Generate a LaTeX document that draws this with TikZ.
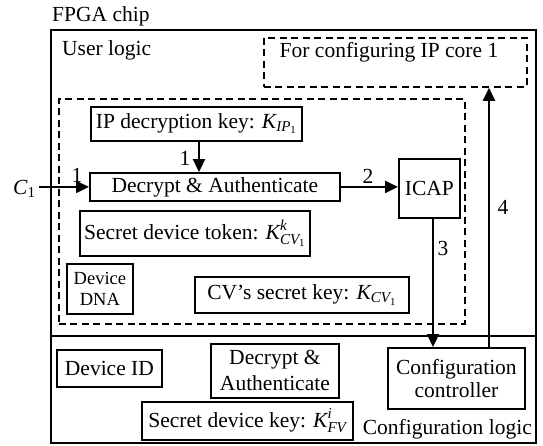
\documentclass[tikz,border=0pt]{standalone}
\usepackage{amsmath}
\usepackage{fontspec}
\setmainfont{Liberation Serif}
\usetikzlibrary{arrows.meta}
\tikzset{
  box/.style={draw, line width=1.8pt, inner sep=0pt, anchor=north west, align=center},
  dbox/.style={draw, line width=1.8pt, dash pattern=on 7pt off 4.5pt, inner sep=0pt, anchor=north west},
  arr/.style={line width=2.3pt, -{Triangle[length=13pt,width=12pt]}},
  lbl/.style={inner sep=0pt}
}
\begin{document}
\begin{tikzpicture}[x=1pt, y=-1pt, font=\fontsize{21.5}{23}\selectfont]
\useasboundingbox (0,0) rectangle (543,445);
% outer chip
\node[box, minimum width=485, minimum height=413] (chip) at (50,29) {};
\coordinate (ydiv) at (0,336);
\draw[line width=1.8pt] (chip.west |- ydiv) -- (chip.east |- ydiv);
\node[anchor=base west, inner sep=0pt] (fpga) at (52,21) {FPGA chip};
\node[anchor=base west, inner sep=0pt] (ul) at (62,55) {User logic};
% dashed boxes
\node[dbox, minimum width=263, minimum height=49] (ipc) at (263,37) {};
\node[anchor=base, inner sep=0pt] (ipct) at (389,57) {For configuring IP core 1};
\node[dbox, minimum width=406, minimum height=225] (sec) at (58,98) {};
% user logic boxes
\node[box, minimum width=211, minimum height=34] (ipkey) at (90,106) {IP decryption key: $\textit{K}_{\textit{IP}_{\text{1}}}$};
\node[box, minimum width=250, minimum height=28] (dec) at (89,172) {Decrypt \& Authenticate};
\node[box, minimum width=230, minimum height=45] (tok) at (79,210) {Secret device token: $\textit{K}^{\textit{k}}_{\textit{CV}_{\text{1}}}$};
\node[box, minimum width=66, minimum height=50, font=\fontsize{18.5}{21}\selectfont] (dna) at (66,263) {Device\\DNA};
\node[box, minimum width=214, minimum height=36] (cvkey) at (194,276) {CV's secret key: $\textit{K}_{\textit{CV}_{\text{1}}}$};
\node[box, minimum width=61, minimum height=59] (icap) at (398,158) {ICAP};
% configuration logic boxes
\node[box, minimum width=105, minimum height=37] (devid) at (56,349) {Device ID};
\node[box, minimum width=128, minimum height=54, font=\fontsize{21.5}{26}\selectfont] (dec2) at (210,343) {Decrypt \&\\Authenticate};
\node[box, minimum width=211, minimum height=38] (sdk) at (141,401) {Secret device key: $\textit{K}^{\textit{i}}_{\textit{FV}}$};
\node[box, minimum width=137, minimum height=61] (cc) at (387,347) {Configuration\\controller};
\node[anchor=base east, inner sep=0pt] (cl) at (532,434) {Configuration logic};
% input
\node[anchor=base west, inner sep=0pt] (c1) at (13,194) {$\textit{C}_{\text{1}}$};
% labels
\node[lbl] (l1a) at (77,175) {1};
\node[lbl] (l1b) at (185,158) {1};
\node[lbl] (l2) at (368,176) {2};
\node[lbl] (l3) at (443,248) {3};
\node[lbl] (l4) at (503,207) {4};
% connectors
\coordinate (x39) at (39,0);
\coordinate (x199) at (199,0);
\coordinate (x433) at (433,0);
\coordinate (x489) at (489,0);
\draw[arr] (dec.west -| x39) -- (dec.west);
\draw[arr] (ipkey.south -| x199) -- (dec.north -| x199);
\draw[arr] (dec.east) -- (icap.west |- dec.east);
\draw[arr] (icap.south -| x433) -- (cc.north -| x433);
\draw[arr] (cc.north -| x489) -- (ipc.south -| x489);
\end{tikzpicture}
\end{document}
